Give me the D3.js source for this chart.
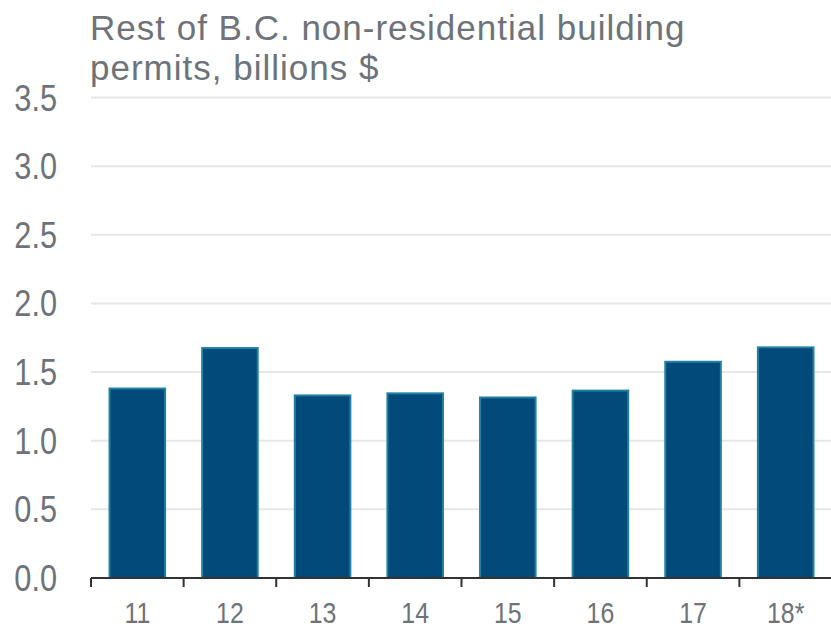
<!DOCTYPE html>
<html>
<head>
<meta charset="utf-8">
<script src="https://cdn.jsdelivr.net/npm/d3@7"></script>
<style>
  html, body { margin: 0; padding: 0; background: #fff; }
  svg { display: block; font-family: "Liberation Sans", Arial, sans-serif; }
</style>
</head>
<body>
<svg id="chart" width="831" height="629"></svg>
<script>
// Rest of B.C. non-residential building permits, billions $
const years = ["11", "12", "13", "14", "15", "16", "17", "18*"];
const permits = [1.38, 1.675, 1.33, 1.345, 1.315, 1.365, 1.575, 1.68];
const yTicks = [0, 0.5, 1.0, 1.5, 2.0, 2.5, 3.0, 3.5];
const titleLines = ["Rest of B.C. non-residential building", "permits, billions $"];

const svg = d3.select("#chart");
const W = 831;
const m = { left: 91, right: 832, top: 97.5, bottom: 578 };
const textColor = "#6d7379";
const condense = 0.83; // horizontal squeeze for the axis numerals

const x = d3.scaleBand().domain(years).range([m.left, m.right]).paddingInner(0.4).paddingOuter(0.2);
const y = d3.scaleLinear().domain([0, 3.5]).range([m.bottom, m.top]);

// gridlines
svg.append("g")
  .selectAll("line")
  .data(yTicks.filter(d => d > 0))
  .join("line")
  .attr("x1", m.left).attr("x2", W)
  .attr("y1", d => y(d)).attr("y2", d => y(d))
  .attr("stroke", "#e6e6e6").attr("stroke-width", 2);

// y tick labels
svg.append("g")
  .selectAll("text")
  .data(yTicks)
  .join("text")
  .attr("transform", d => `translate(57,${y(d) + 13}) scale(${condense},1)`)
  .attr("text-anchor", "end")
  .attr("fill", textColor)
  .attr("font-size", 37)
  .text(d => d3.format(".1f")(d));

// bars
svg.append("g")
  .selectAll("rect")
  .data(years.map((k, i) => ({ k, v: permits[i] })))
  .join("rect")
  .attr("x", d => x(d.k))
  .attr("width", x.bandwidth())
  .attr("y", d => y(d.v))
  .attr("height", d => m.bottom - y(d.v))
  .attr("fill", "#024a79")
  .attr("stroke", "#2281a3")
  .attr("stroke-width", 2);

// x axis with ticks at band boundaries
const step = x.step();
const boundaries = d3.range(years.length + 1).map(i => m.left + i * step);
const axis = svg.append("g");
axis.append("line")
  .attr("x1", m.left).attr("x2", W)
  .attr("y1", m.bottom).attr("y2", m.bottom)
  .attr("stroke", "#333").attr("stroke-width", 2);
axis.selectAll("line.tick")
  .data(boundaries)
  .join("line")
  .attr("class", "tick")
  .attr("x1", d => d).attr("x2", d => d)
  .attr("y1", m.bottom).attr("y2", m.bottom + 9)
  .attr("stroke", "#333").attr("stroke-width", 2);
axis.selectAll("text")
  .data(years)
  .join("text")
  .attr("transform", d => `translate(${x(d) + x.bandwidth() / 2},623) scale(${condense},1)`)
  .attr("text-anchor", "middle")
  .attr("fill", textColor)
  .attr("font-size", 30)
  .text(d => d);

// title
svg.append("g")
  .selectAll("text")
  .data(titleLines)
  .join("text")
  .attr("x", 90)
  .attr("y", (d, i) => 39.5 + i * 40)
  .attr("fill", textColor)
  .attr("font-size", 35)
  .attr("letter-spacing", 1)
  .text(d => d);
</script>
</body>
</html>
